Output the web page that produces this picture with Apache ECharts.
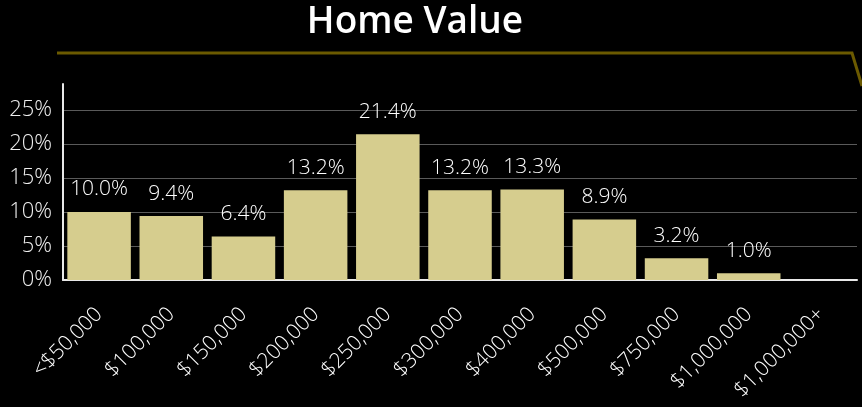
<!DOCTYPE html>
<html><head><meta charset="utf-8">
<script src="https://cdn.jsdelivr.net/npm/echarts@6/dist/echarts.min.js"></script>
<style>html,body{margin:0;padding:0;background:#000;}#c{width:862px;height:407px;}</style>
</head><body><div id="c"></div>
<script>
const categories = ['<$50,000','$100,000','$150,000','$200,000','$250,000','$300,000','$400,000','$500,000','$750,000','$1,000,000','$1,000,000+'];
const values = [10.0, 9.4, 6.4, 13.2, 21.4, 13.2, 13.3, 8.9, 3.2, 1.0, null];
const yTicks = [0, 5, 10, 15, 20, 25];

const chart = echarts.init(document.getElementById('c'));
chart.setOption({
  backgroundColor: '#000',
  animation: false,
  title: {
    text: 'Home Value', left: 410, textAlign: 'center', top: -1,
    textStyle: {color: '#fff', fontFamily: 'Open Sans', fontWeight: 600, fontSize: 37}
  },
  graphic: [{
    type: 'polyline', silent: true,
    shape: {points: [[57, 53], [852, 53], [862, 86]]},
    style: {stroke: '#6b5a00', lineWidth: 3, fill: null}
  }],
  grid: {left: 63, right: 5, top: 84, bottom: 127},
  xAxis: {
    type: 'category', data: categories,
    axisLine: {lineStyle: {color: '#e8e8e8', width: 2}},
    axisTick: {show: false},
    axisLabel: {color: '#fff', fontFamily: 'Open Sans', fontWeight: 300, fontSize: 21, rotate: 45, margin: 31, interval: 0}
  },
  yAxis: {
    type: 'value', min: 0, max: 28.8, interval: 5,
    axisLine: {show: true, lineStyle: {color: '#e8e8e8', width: 2}},
    axisTick: {show: false},
    splitLine: {lineStyle: {color: ['#555', '#5a5a5a', '#5a5a5a', '#5a5a5a', '#5a5a5a', '#5a5a5a', 'rgba(0,0,0,0)'], width: 1}},
    axisLabel: {
      color: '#eee', fontFamily: 'Open Sans', fontWeight: 300, fontSize: 22, margin: 11, showMaxLabel: false,
      formatter: v => yTicks.includes(v) ? v + '%' : ''
    }
  },
  series: [{
    type: 'bar', data: values, barCategoryGap: '12%',
    itemStyle: {color: '#d6cd8e'},
    label: {
      show: true, position: 'top', distance: 12, color: '#fff', fontFamily: 'Open Sans', fontWeight: 300, fontSize: 21,
      formatter: p => p.value == null ? '' : p.value.toFixed(1) + '%'
    }
  }]
});
</script></body></html>
